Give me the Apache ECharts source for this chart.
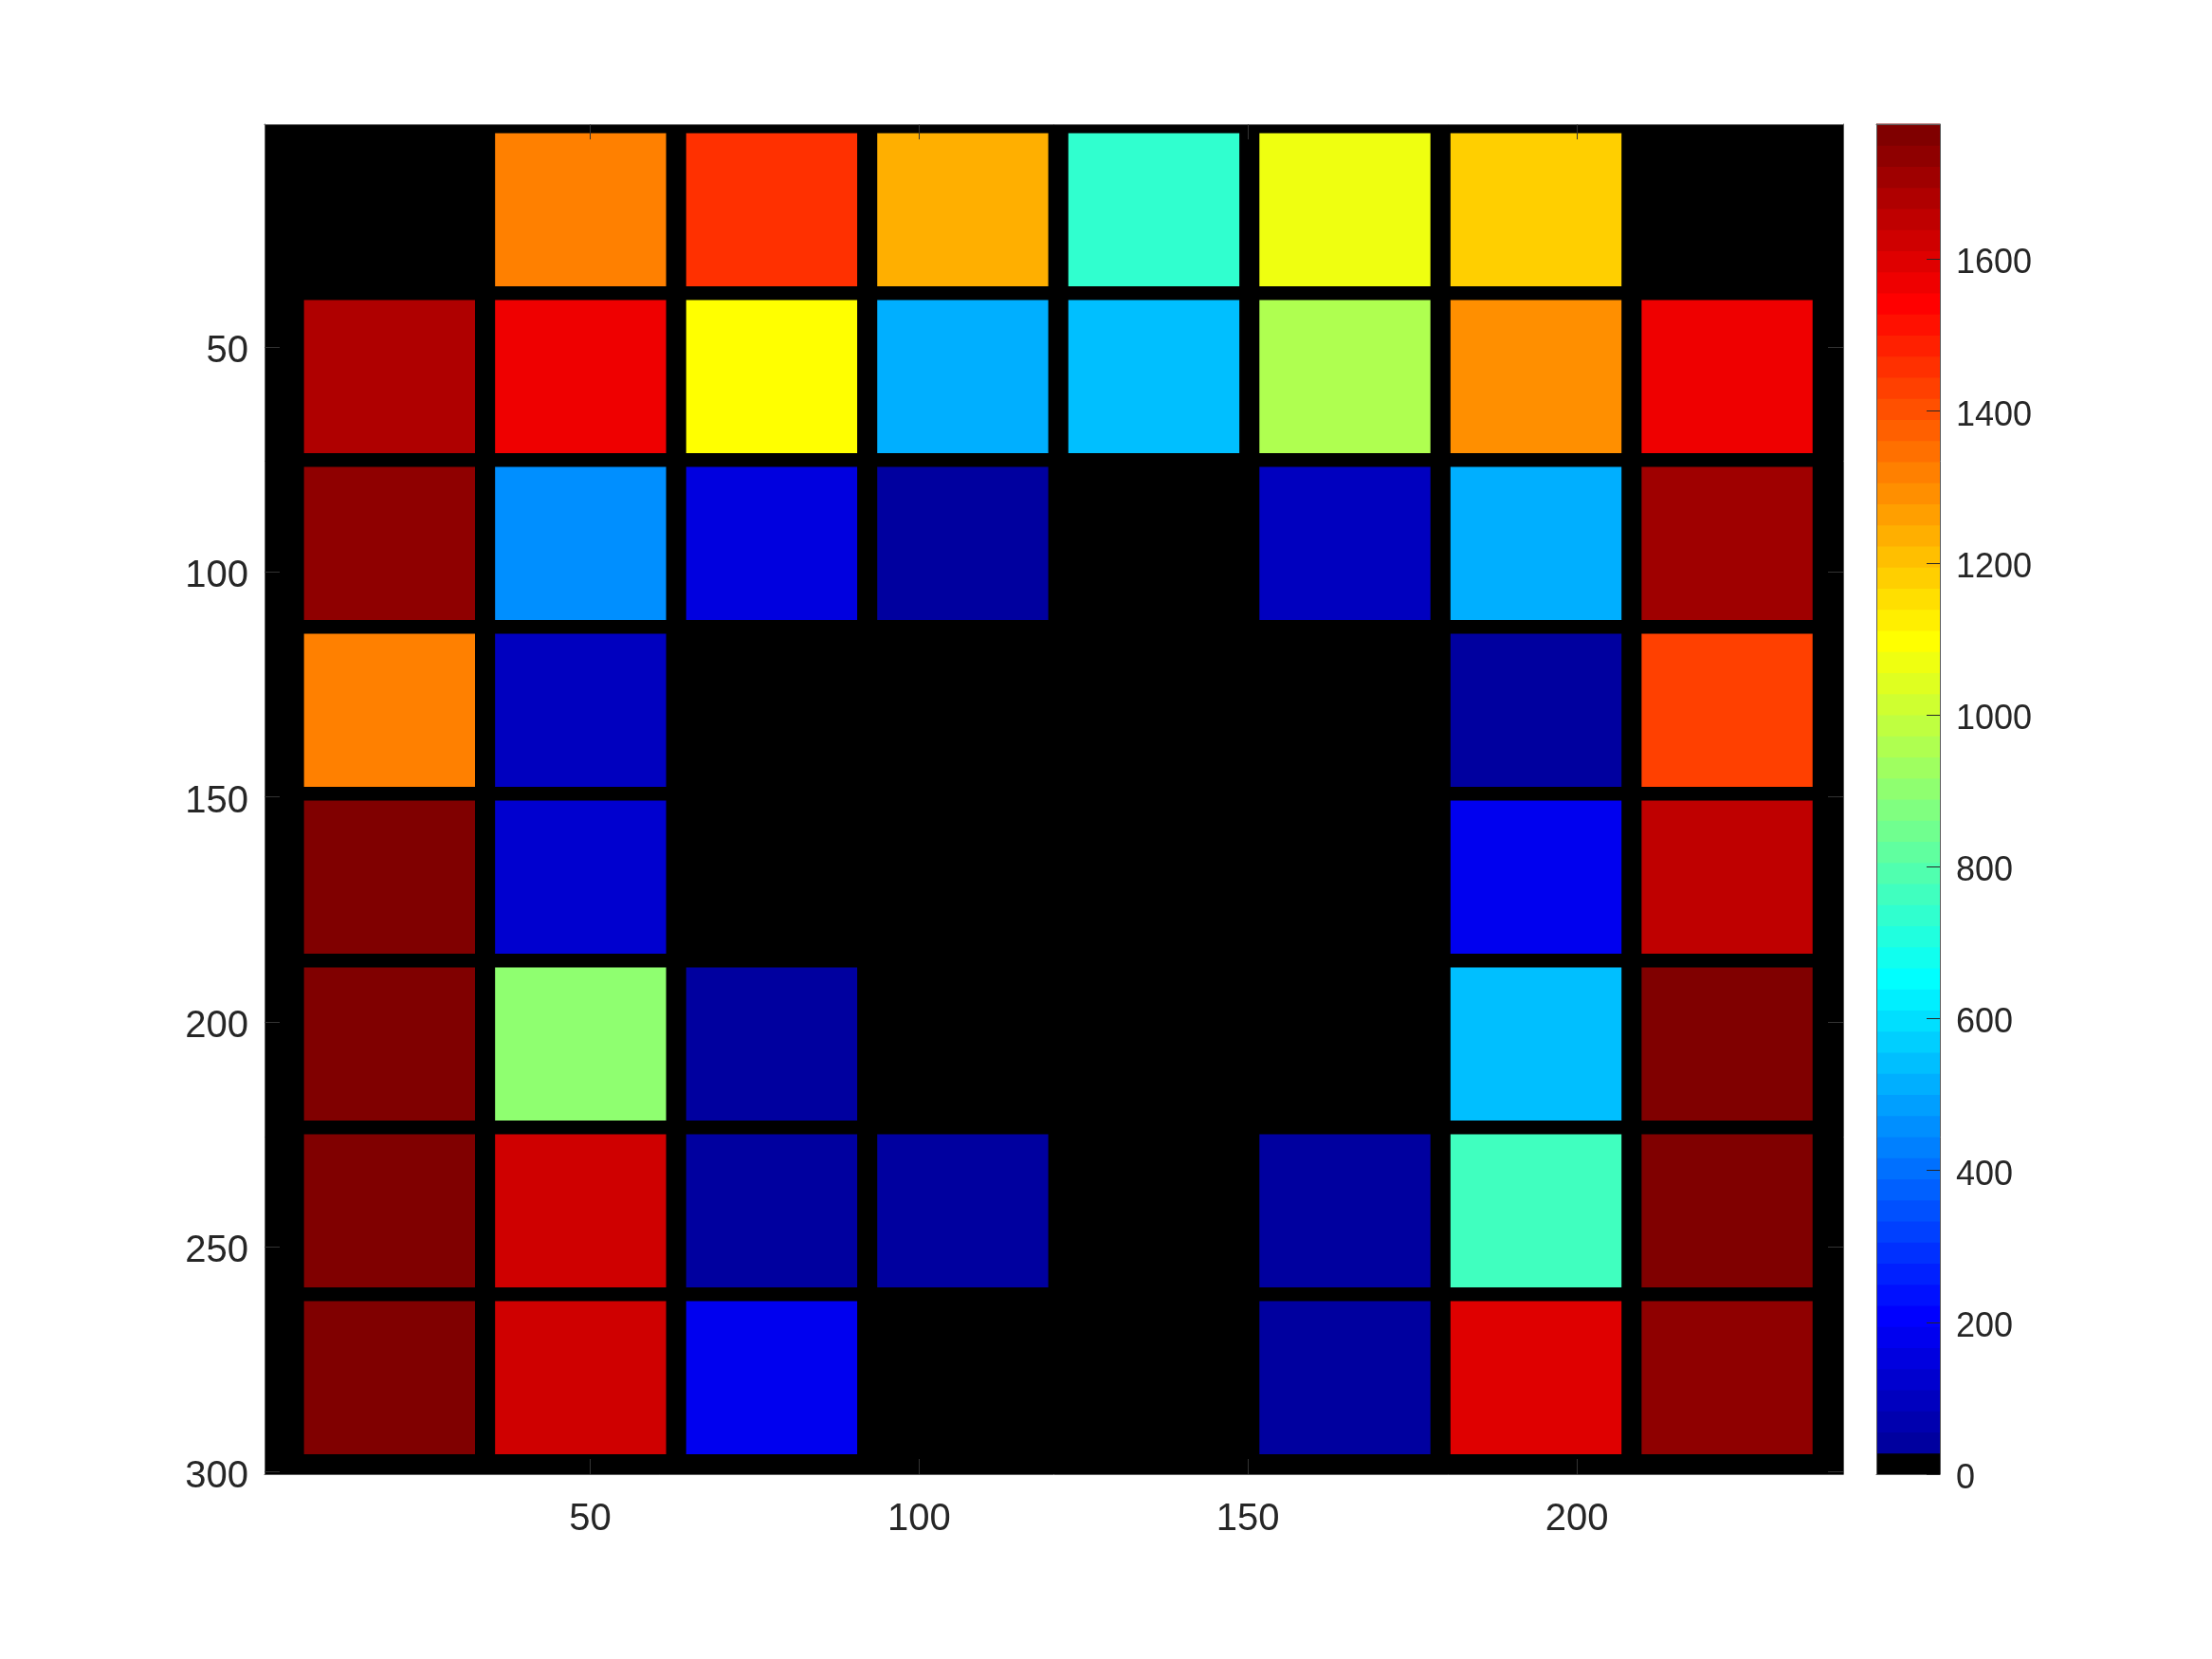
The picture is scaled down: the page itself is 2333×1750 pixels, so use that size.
<!DOCTYPE html>
<html>
<head>
<meta charset="utf-8">
<title>blocks</title>
<script src="https://cdn.jsdelivr.net/npm/echarts@6.0.0/dist/echarts.min.js"></script>
<style>
html, body { margin: 0; padding: 0; background: #fff; }
#chart { width: 2333px; height: 1750px; }
</style>
</head>
<body>
<div id="chart"></div>
<script>
// block values, one array per block row (top to bottom), 0 = black
const row1 = [0, 1320, 1458, 1236, 736, 1069, 1181, 0];
const row2 = [1681, 1570, 1097, 514, 542, 958, 1292, 1570];
const row3 = [1736, 458, 153, 42, 0, 97, 514, 1708];
const row4 = [1320, 97, 0, 0, 0, 0, 42, 1431];
const row5 = [1770, 125, 0, 0, 0, 0, 181, 1653];
const row6 = [1770, 903, 42, 0, 0, 0, 542, 1770];
const row7 = [1770, 1625, 42, 42, 0, 42, 764, 1778];
const row8 = [1770, 1625, 181, 0, 0, 42, 1597, 1736];
const rows = [row1, row2, row3, row4, row5, row6, row7, row8];

const xTicks = [50, 100, 150, 200];
const yTicks = [50, 100, 150, 200, 250, 300];
const cbTicks = [0, 200, 400, 600, 800, 1000, 1200, 1400, 1600];

// image extent in pixel units
const xLim = [0.5, 240.5];
const yLim = [0.5, 300.5];

// where the blocks sit inside the image (pixel units)
const blockX0 = 6.5, blockStepX = 29.05, blockW = 26;
const blockY0 = 2.5, blockStepY = 37.08, blockH = 34;

// jet(64) with the first entry replaced by black
const nColors = 64;
function jet(i) {
    let r = 0, g = 0, b = 0;
    if (i <= 8) { b = (i + 8) / 16; }
    else if (i <= 24) { g = (i - 8) / 16; b = 1; }
    else if (i <= 40) { r = (i - 24) / 16; g = 1; b = 1 - (i - 24) / 16; }
    else if (i <= 56) { r = 1; g = 1 - (i - 40) / 16; }
    else { r = 1 - (i - 56) / 16; }
    return 'rgb(' + Math.round(r * 255) + ',' + Math.round(g * 255) + ',' + Math.round(b * 255) + ')';
}
const cmap = [];
for (let i = 1; i <= nColors; i++) cmap.push(i === 1 ? '#000000' : jet(i));

const cmax = Math.max(...rows.flat());
function colorOf(v) {
    let k = Math.floor(v / cmax * nColors);
    if (k > nColors - 1) k = nColors - 1;
    if (k < 0) k = 0;
    return cmap[k];
}

const cells = [];
rows.forEach((r, ri) => r.forEach((v, ci) => cells.push([ci, ri, v])));
const levels = cmap.map((c, k) => [0.5, (k + 0.5) * cmax / nColors, k]);

const font = 'Liberation Sans, Arial, Helvetica, sans-serif';
const textColor = '#262626';
const boxLine = { color: '#5a5a5a', width: 1 };
const tickLine = { color: '#333333', width: 1 };
const plain = v => String(v);

const chart = echarts.init(document.getElementById('chart'), null, { renderer: 'canvas' });

function frameAxis(gridIndex, position, min, max, extra) {
    return Object.assign({
        gridIndex: gridIndex,
        type: 'value',
        position: position,
        min: min,
        max: max,
        z: 5,
        axisLine: { show: true, onZero: false, lineStyle: boxLine },
        axisTick: { show: false },
        axisLabel: { show: false },
        splitLine: { show: false }
    }, extra || {});
}

const option = {
    animation: false,
    backgroundColor: '#ffffff',
    grid: [
        { left: 279, top: 131, width: 1665, height: 1424, show: true, backgroundColor: '#000000', borderWidth: 0 },
        { left: 1979, top: 131, width: 67, height: 1424, show: false }
    ],
    xAxis: [
        frameAxis(0, 'bottom', xLim[0], xLim[1], {
            axisTick: { show: true, inside: true, length: 16, customValues: xTicks, lineStyle: tickLine },
            axisLabel: { show: true, customValues: xTicks, formatter: plain, margin: 28, fontSize: 40, fontFamily: font, color: textColor }
        }),
        frameAxis(0, 'top', xLim[0], xLim[1], {
            axisTick: { show: true, inside: true, length: 16, customValues: xTicks, lineStyle: tickLine }
        }),
        frameAxis(1, 'bottom', 0, 1),
        frameAxis(1, 'top', 0, 1)
    ],
    yAxis: [
        frameAxis(0, 'left', yLim[0], yLim[1], {
            inverse: true,
            axisTick: { show: true, inside: true, length: 16, customValues: yTicks, lineStyle: tickLine },
            axisLabel: { show: true, customValues: yTicks, formatter: plain, margin: 17, verticalAlign: 'top', lineHeight: 10, fontSize: 40, fontFamily: font, color: textColor }
        }),
        frameAxis(0, 'right', yLim[0], yLim[1], {
            inverse: true,
            axisTick: { show: true, inside: true, length: 16, customValues: yTicks, lineStyle: tickLine }
        }),
        frameAxis(1, 'right', 0, cmax, {
            axisTick: { show: true, inside: true, length: 14, customValues: cbTicks, lineStyle: { color: '#262626', width: 1 } },
            axisLabel: { show: true, customValues: cbTicks, formatter: plain, margin: 17, verticalAlign: 'top', lineHeight: 10, fontSize: 36, fontFamily: font, color: textColor }
        }),
        frameAxis(1, 'left', 0, cmax)
    ],
    series: [
        {
            type: 'custom',
            xAxisIndex: 0,
            yAxisIndex: 0,
            silent: true,
            z: 2,
            data: cells,
            renderItem: function (params, api) {
                const c = api.value(0), r = api.value(1);
                const x0 = blockX0 + c * blockStepX;
                const y0 = blockY0 + r * blockStepY;
                const p0 = api.coord([x0, y0]);
                const p1 = api.coord([x0 + blockW, y0 + blockH]);
                return {
                    type: 'rect',
                    shape: {
                        x: Math.min(p0[0], p1[0]),
                        y: Math.min(p0[1], p1[1]),
                        width: Math.abs(p1[0] - p0[0]),
                        height: Math.abs(p1[1] - p0[1])
                    },
                    style: { fill: colorOf(api.value(2)) }
                };
            }
        },
        {
            type: 'custom',
            xAxisIndex: 2,
            yAxisIndex: 2,
            silent: true,
            z: 2,
            data: levels,
            renderItem: function (params, api) {
                const k = api.value(2);
                const p0 = api.coord([0, k * cmax / nColors]);
                const p1 = api.coord([1, (k + 1) * cmax / nColors]);
                return {
                    type: 'rect',
                    shape: {
                        x: Math.min(p0[0], p1[0]),
                        y: Math.min(p0[1], p1[1]) - 0.5,
                        width: Math.abs(p1[0] - p0[0]),
                        height: Math.abs(p1[1] - p0[1]) + 1
                    },
                    style: { fill: cmap[k] }
                };
            }
        }
    ]
};

chart.setOption(option);
</script>
</body>
</html>
